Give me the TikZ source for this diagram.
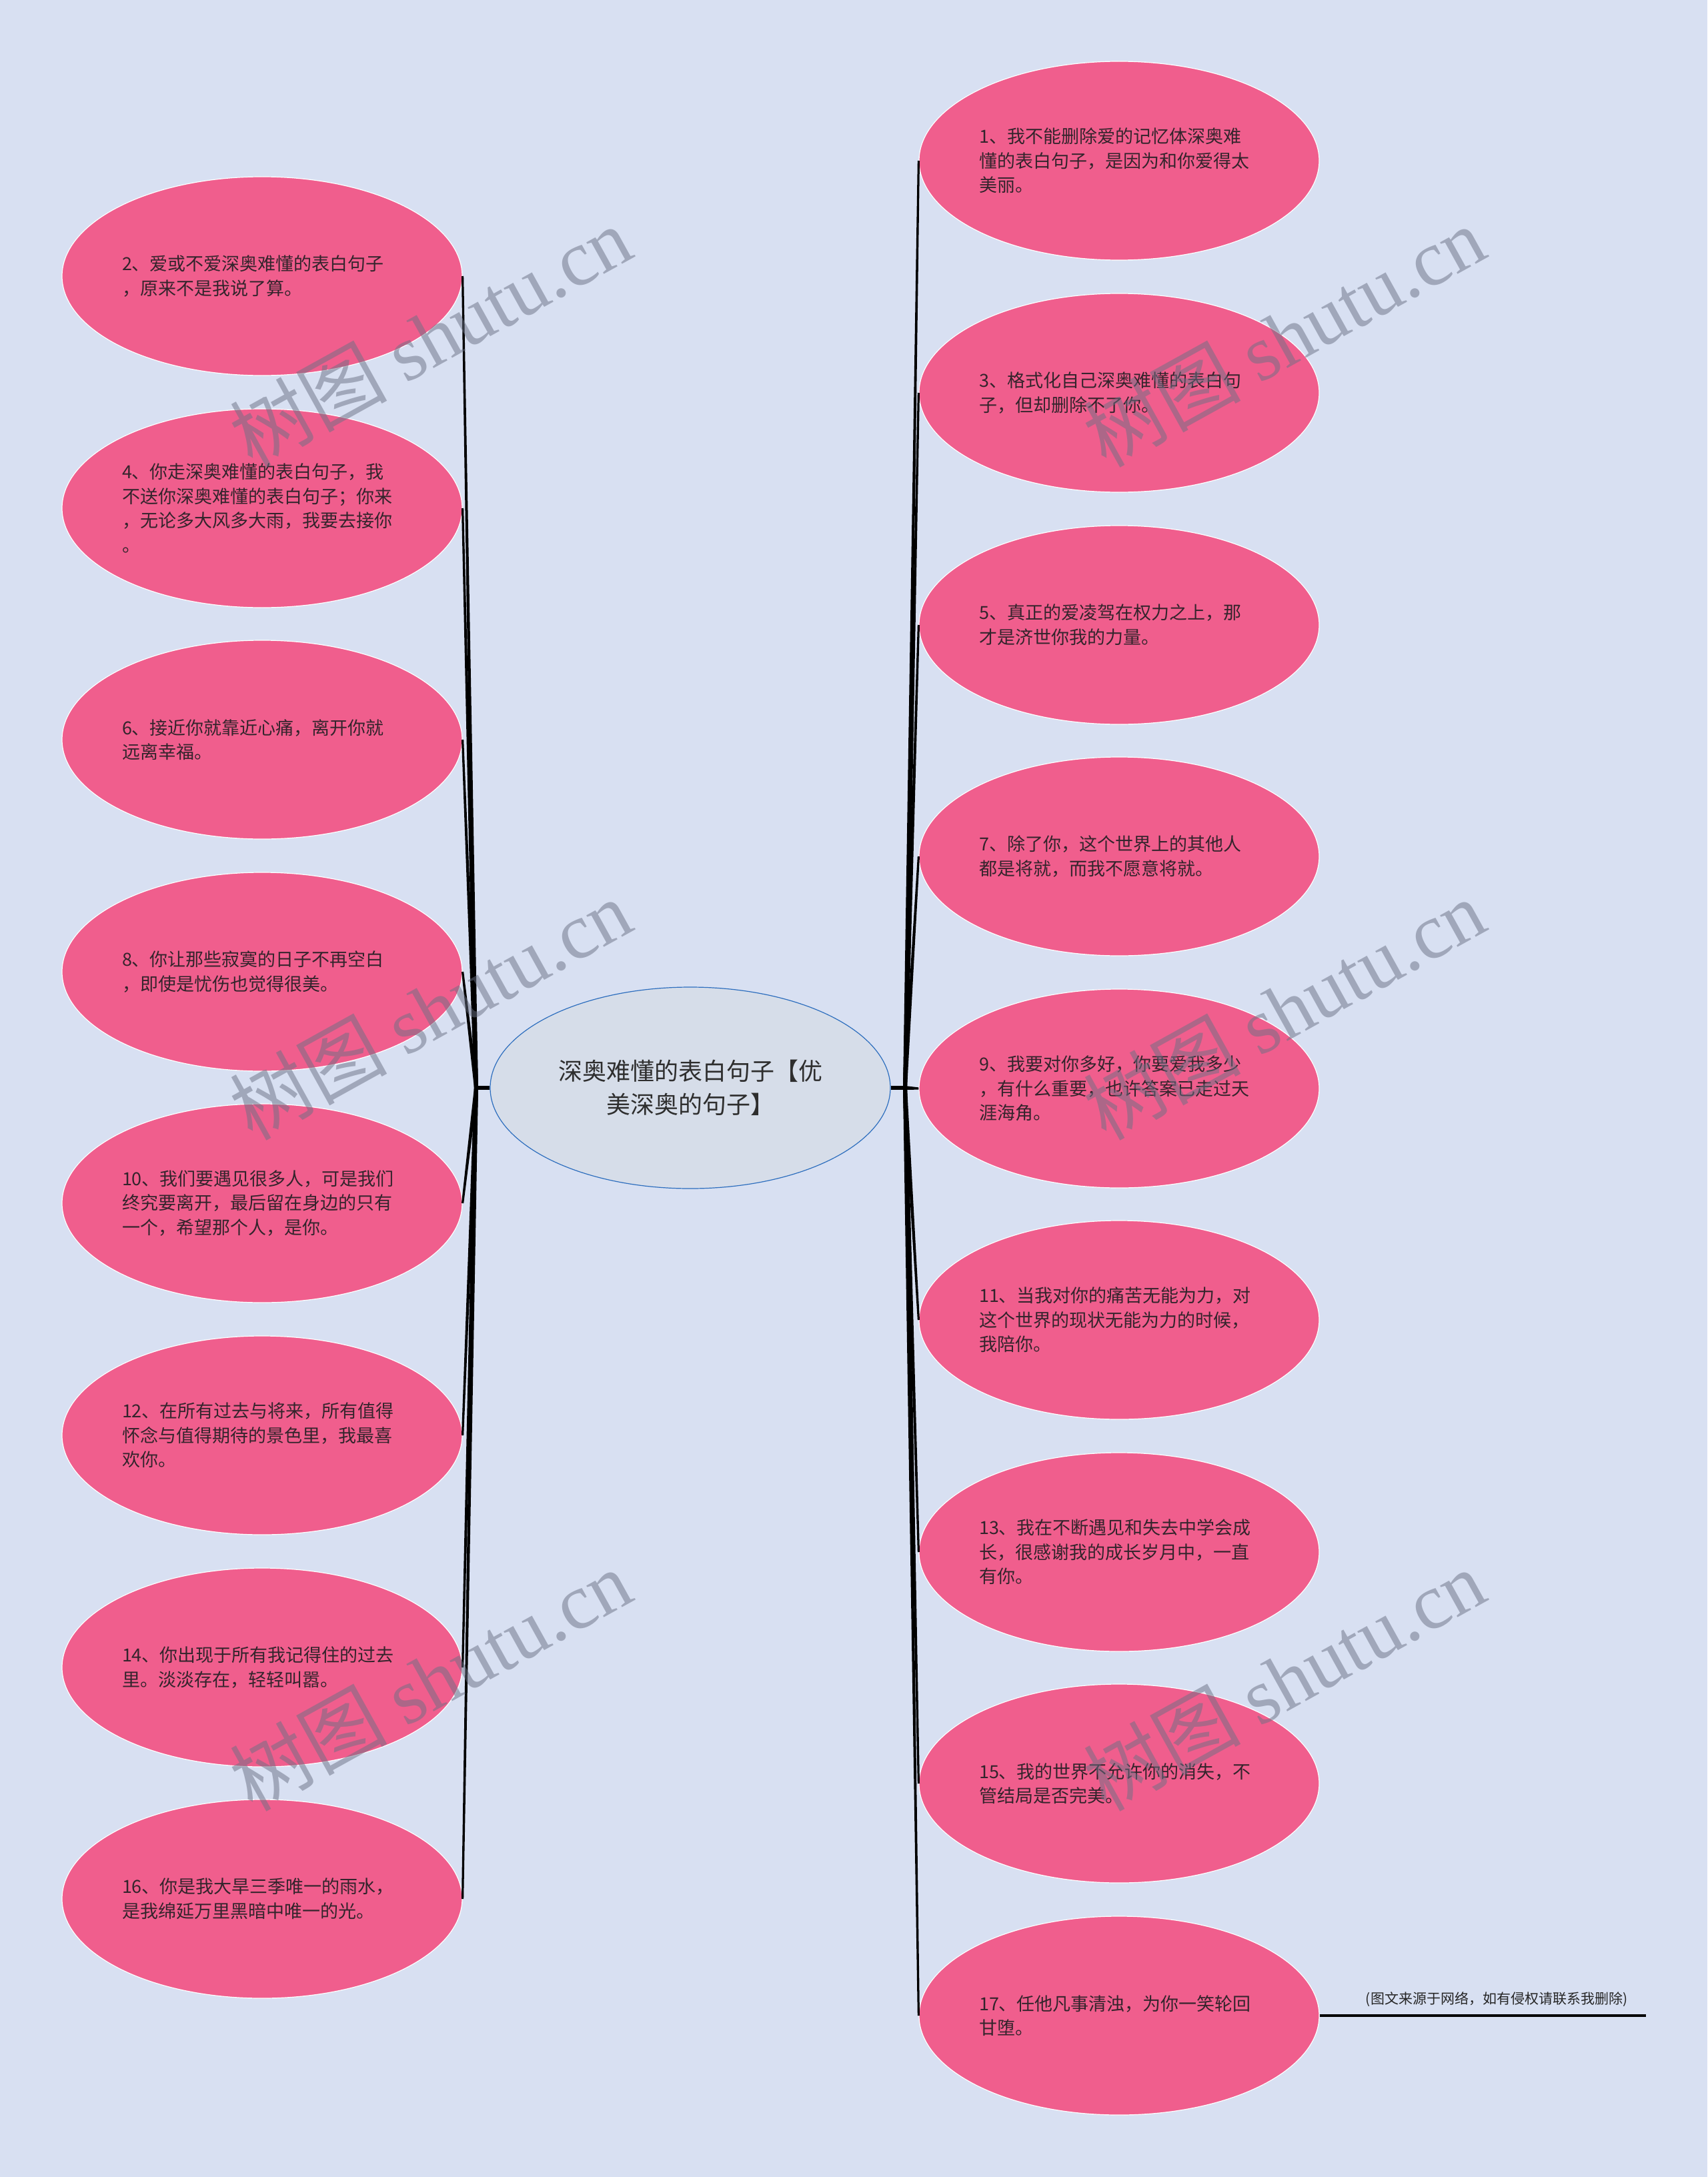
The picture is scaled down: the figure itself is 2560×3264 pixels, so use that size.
\documentclass[tikz,border=0pt]{standalone}
\usepackage{fontspec}
\setmainfont{Noto Sans CJK SC}
\newfontfamily\wmlatin{Liberation Serif}
\usetikzlibrary{shapes.geometric,calc}
\definecolor{bgc}{RGB}{216,224,242}
\definecolor{pinkc}{RGB}{240,94,141}
\definecolor{centerfill}{RGB}{214,221,233}
\definecolor{centerline}{RGB}{45,110,190}
\definecolor{txt}{RGB}{52,36,44}
\definecolor{wmc}{RGB}{105,112,132}
\tikzset{
  bub/.style={ellipse, fill=pinkc, draw=white, line width=0.6pt,
    minimum width=300pt, minimum height=149pt, inner sep=0pt,
    text width=210pt, align=left, text=txt,
    font=\fontsize{13.5}{18.3}\selectfont},
  hub/.style={ellipse, fill=centerfill, draw=centerline, line width=0.6pt,
    minimum width=300pt, minimum height=151pt, inner sep=0pt,
    align=center, text=black!82,
    font=\fontsize{18}{25}\selectfont},
  stub/.style={draw=black, line width=2.6pt},
  taper/.style={fill=black},
  wm/.style={rotate=29, text=wmc, opacity=0.5, inner sep=0pt,
    font=\fontsize{59}{59}\selectfont},
  notetext/.style={text=black!85, inner sep=0pt, font=\fontsize{10.5}{12}\selectfont}
}
\begin{document}
\begin{tikzpicture}[x=0.5pt,y=-0.5pt]
\fill[bgc] (0,0) rectangle (2560,3264);
\useasboundingbox (0,0) rectangle (2560,3264);

% center
\node[hub] (c) at (1035,1631) {深奥难懂的表白句子【优\\美深奥的句子】};
\coordinate (jl) at (714,1631);
\coordinate (jr) at (1357,1631);

% left column
\node[bub] (n2)  at (393,414)  {2、爱或不爱深奥难懂的表白句子\\，原来不是我说了算。};
\node[bub] (n4)  at (393,762)  {4、你走深奥难懂的表白句子，我\\不送你深奥难懂的表白句子；你来\\，无论多大风多大雨，我要去接你\\。};
\node[bub] (n6)  at (393,1109) {6、接近你就靠近心痛，离开你就\\远离幸福。};
\node[bub] (n8)  at (393,1457) {8、你让那些寂寞的日子不再空白\\，即使是忧伤也觉得很美。};
\node[bub] (n10) at (393,1804) {10、我们要遇见很多人，可是我们\\终究要离开，最后留在身边的只有\\一个，希望那个人，是你。};
\node[bub] (n12) at (393,2152) {12、在所有过去与将来，所有值得\\怀念与值得期待的景色里，我最喜\\欢你。};
\node[bub] (n14) at (393,2500) {14、你出现于所有我记得住的过去\\里。淡淡存在，轻轻叫嚣。};
\node[bub] (n16) at (393,2847) {16、你是我大旱三季唯一的雨水，\\是我绵延万里黑暗中唯一的光。};

% right column
\node[bub] (n1)  at (1678,241)  {1、我不能删除爱的记忆体深奥难\\懂的表白句子，是因为和你爱得太\\美丽。};
\node[bub] (n3)  at (1678,589)  {3、格式化自己深奥难懂的表白句\\子，但却删除不了你。};
\node[bub] (n5)  at (1678,937)  {5、真正的爱凌驾在权力之上，那\\才是济世你我的力量。};
\node[bub] (n7)  at (1678,1284) {7、除了你，这个世界上的其他人\\都是将就，而我不愿意将就。};
\node[bub] (n9)  at (1678,1632) {9、我要对你多好，你要爱我多少\\，有什么重要，也许答案已走过天\\涯海角。};
\node[bub] (n11) at (1678,1979) {11、当我对你的痛苦无能为力，对\\这个世界的现状无能为力的时候，\\我陪你。};
\node[bub] (n13) at (1678,2327) {13、我在不断遇见和失去中学会成\\长，很感谢我的成长岁月中，一直\\有你。};
\node[bub] (n15) at (1678,2674) {15、我的世界不允许你的消失，不\\管结局是否完美。};
\node[bub] (n17) at (1678,3022) {17、任他凡事清浊，为你一笑轮回\\甘堕。};

% connectors (tapered: thick at the junction, thin at the bubble)
\draw[stub] (c.west) -- (jl);
\draw[stub] (c.east) -- (jr);
\foreach \n in {n2,n4,n6,n8,n10,n12,n14,n16}{
  \fill[taper] ($(jl)!1.5pt!90:(\n.east)$) -- ($(jl)!1.5pt!-90:(\n.east)$)
    -- ($(\n.east)!0.8pt!90:(jl)$) -- ($(\n.east)!0.8pt!-90:(jl)$) -- cycle;}
\foreach \n in {n1,n3,n5,n7,n9,n11,n13,n15,n17}{
  \fill[taper] ($(jr)!1.5pt!90:(\n.west)$) -- ($(jr)!1.5pt!-90:(\n.west)$)
    -- ($(\n.west)!0.8pt!90:(jr)$) -- ($(\n.west)!0.8pt!-90:(jr)$) -- cycle;}

% note
\coordinate (noteend) at (2468,3022);
\draw[line width=2pt] (n17.east) -- (noteend);
\node[notetext] (note) at (2244,2998) {(图文来源于网络，如有侵权请联系我删除)};

% watermarks
\node[wm] (w1) at (645,504)   {树图 {\wmlatin shutu.cn}};
\node[wm] (w2) at (645,1513)  {树图 {\wmlatin shutu.cn}};
\node[wm] (w3) at (645,2518)  {树图 {\wmlatin shutu.cn}};
\node[wm] (w4) at (1925,504)  {树图 {\wmlatin shutu.cn}};
\node[wm] (w5) at (1925,1513) {树图 {\wmlatin shutu.cn}};
\node[wm] (w6) at (1925,2518) {树图 {\wmlatin shutu.cn}};
\end{tikzpicture}
\end{document}
